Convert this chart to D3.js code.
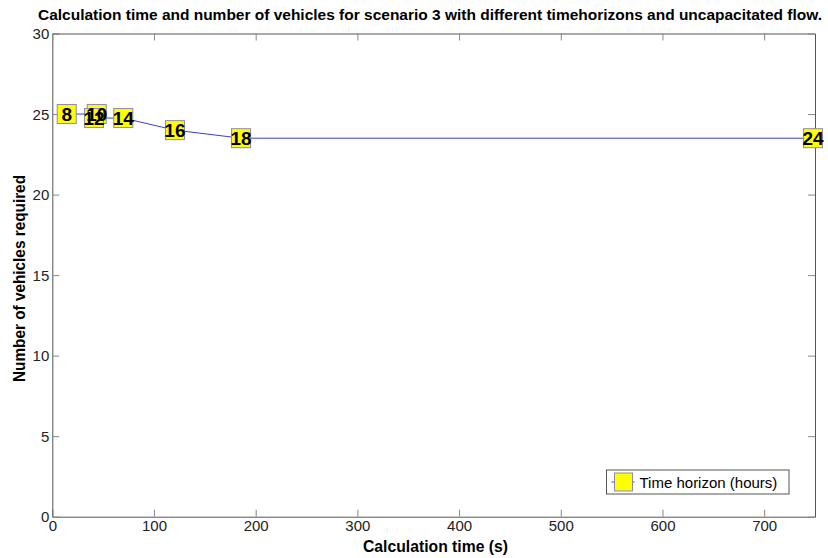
<!DOCTYPE html>
<html>
<head>
<meta charset="utf-8">
<script src="https://cdn.jsdelivr.net/npm/d3@7"></script>
<style>
  body { margin: 0; background: #fff; }
  svg { display: block; }
</style>
</head>
<body>
<svg id="chart"></svg>
<script>
// data
const horizons = [8, 10, 12, 14, 16, 18, 24]
const calcTime = [14.2, 43.7, 41, 69.8, 120.6, 185.6, 748]
const vehicles = [25, 25, 24.75, 24.75, 24, 23.5, 23.5]
const xTicks = [0, 100, 200, 300, 400, 500, 600, 700]
const yTicks = [0, 5, 10, 15, 20, 25, 30]

const width = 828
const height = 558
const margin = { top: 33.5, right: 13, bottom: 41.3, left: 52.3 }
const innerW = width - margin.left - margin.right
const innerH = height - margin.top - margin.bottom

const svg = d3.select('#chart').attr('width', width).attr('height', height)

const x = d3.scaleLinear().domain([0, 750]).range([0, innerW])
const y = d3.scaleLinear().domain([0, 30]).range([innerH, 0])

const g = svg.append('g').attr('transform', `translate(${margin.left},${margin.top})`)

const axisColor = '#555'
const tickFont = '"Liberation Sans", Arial, sans-serif'

// axes (ticks inside, like matlab)
const xAxis = g.append('g').attr('transform', `translate(0,${innerH})`)
  .call(d3.axisBottom(x).tickValues(xTicks).tickSize(-7).tickPadding(3).tickSizeOuter(0))
const yAxis = g.append('g')
  .call(d3.axisLeft(y).tickValues(yTicks).tickSize(-7).tickPadding(3).tickSizeOuter(0))
const xTop = g.append('g')
  .call(d3.axisTop(x).tickValues(xTicks).tickSize(-7).tickFormat('').tickSizeOuter(0))
const yRight = g.append('g').attr('transform', `translate(${innerW},0)`)
  .call(d3.axisRight(y).tickValues(yTicks).tickSize(-7).tickFormat('').tickSizeOuter(0))

;[xAxis, yAxis, xTop, yRight].forEach(a => {
  a.select('.domain').attr('stroke', axisColor).attr('stroke-width', 1)
  a.selectAll('.tick line').attr('stroke', '#888')
  a.selectAll('text').attr('font-family', tickFont).attr('font-size', 15).attr('fill', '#222')
})
xAxis.selectAll('text').attr('dy', '0.75em')
yAxis.selectAll('text').attr('dy', '0.35em')

// line
const line = d3.line().x((d, i) => x(calcTime[i])).y((d, i) => y(vehicles[i]))
g.append('path')
  .datum(horizons)
  .attr('d', line)
  .attr('fill', 'none')
  .attr('stroke', '#3a3ae0')
  .attr('stroke-width', 1)

// markers first, labels on top of all of them
const mk = 19
g.append('g').selectAll('rect').data(horizons).enter().append('rect')
  .attr('x', (d, i) => x(calcTime[i]) - mk / 2)
  .attr('y', (d, i) => y(vehicles[i]) - mk / 2)
  .attr('width', mk).attr('height', mk)
  .attr('fill', '#ffff00').attr('stroke', '#8a8ab8').attr('stroke-width', 1)
g.append('g').selectAll('text').data(horizons).enter().append('text')
  .text(d => d)
  .attr('x', (d, i) => x(calcTime[i]))
  .attr('y', (d, i) => y(vehicles[i]))
  .attr('text-anchor', 'middle')
  .attr('dy', '0.36em')
  .attr('font-family', tickFont)
  .attr('font-weight', 'bold')
  .attr('font-size', 19)
  .attr('fill', '#000')

// legend
const leg = svg.append('g').attr('transform', 'translate(606.5,470)')
leg.append('rect').attr('width', 182.5).attr('height', 24)
  .attr('fill', '#fff').attr('stroke', '#555')
leg.append('line').attr('x1', 5).attr('x2', 28).attr('y1', 12).attr('y2', 12)
  .attr('stroke', '#3a3ae0')
leg.append('rect').attr('x', 8).attr('y', 3).attr('width', 18).attr('height', 18)
  .attr('fill', '#ffff00').attr('stroke', '#8a8ab8')
leg.append('text').text('Time horizon (hours)')
  .attr('x', 33).attr('y', 17.5)
  .attr('font-family', tickFont).attr('font-size', 15).attr('fill', '#000')

// title and axis labels (original font is condensed, squeeze to its width)
svg.append('text')
  .text('Calculation time and number of vehicles for scenario 3 with different timehorizons and uncapacitated flow.')
  .attr('x', 38).attr('y', 20)
  .attr('textLength', 784).attr('lengthAdjust', 'spacingAndGlyphs')
  .attr('font-family', tickFont).attr('font-weight', 'bold').attr('font-size', 15)

svg.append('text')
  .text('Calculation time (s)')
  .attr('x', 363).attr('y', 552)
  .attr('textLength', 145).attr('lengthAdjust', 'spacingAndGlyphs')
  .attr('font-family', tickFont).attr('font-weight', 'bold').attr('font-size', 16)

svg.append('text')
  .text('Number of vehicles required')
  .attr('transform', 'translate(25,382) rotate(-90)')
  .attr('textLength', 207).attr('lengthAdjust', 'spacingAndGlyphs')
  .attr('font-family', tickFont).attr('font-weight', 'bold').attr('font-size', 16)
</script>
</body>
</html>
